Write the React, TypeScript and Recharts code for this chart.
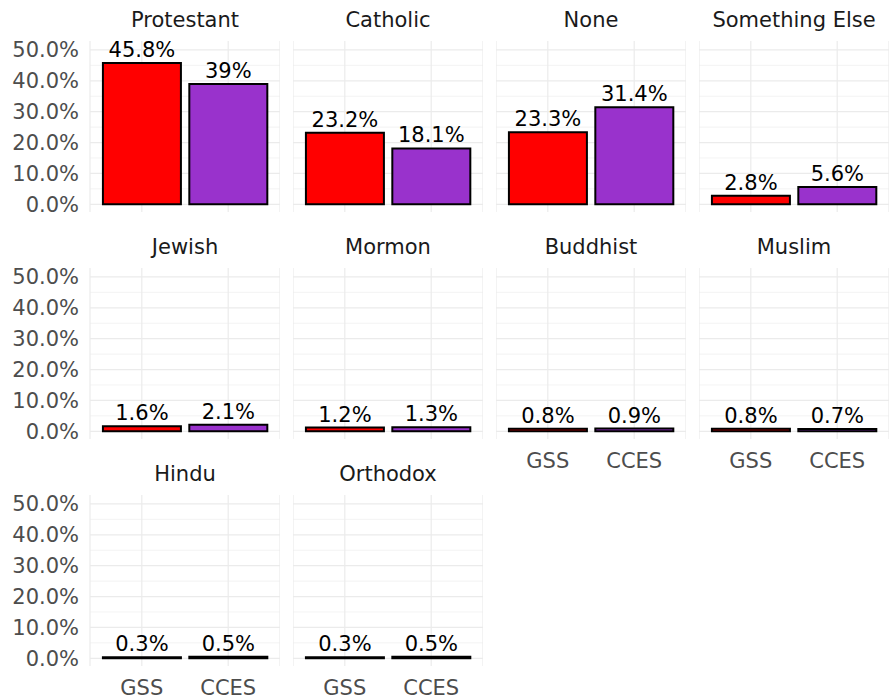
import { BarChart, Bar, XAxis, YAxis, CartesianGrid, Cell, LabelList } from "recharts";

const religions = [
  "Protestant",
  "Catholic",
  "None",
  "Something Else",
  "Jewish",
  "Mormon",
  "Buddhist",
  "Muslim",
  "Hindu",
  "Orthodox",
];
const surveys = ["GSS", "CCES"];
const gssShare = [45.8, 23.2, 23.3, 2.8, 1.6, 1.2, 0.8, 0.8, 0.3, 0.3];
const ccesShare = [39, 18.1, 31.4, 5.6, 2.1, 1.3, 0.9, 0.7, 0.5, 0.5];
const majorTicks = [0, 10, 20, 30, 40, 50];
const minorTicks = [5, 15, 25, 35, 45];

const surveyColors = ["#FF0000", "#9932CC"];
const FONT = "'DejaVu Sans', sans-serif";
const FS = 21;
const PLOT_W = 190;
const PLOT_H = 171;
const TOP_PAD = 30;
const BOTTOM_PAD = 14;
const Y_AXIS_W = 90;
const X_AXIS_H = 40;
const colLeft = [90, 293, 496, 699];
const rowTop = [41, 268, 495];

function Panel({ idx }: { idx: number }) {
  const col = idx % 4;
  const row = Math.floor(idx / 4);
  const showY = col === 0;
  const showX = idx >= 6;
  const data = surveys.map((s, i) => ({
    survey: s,
    share: i === 0 ? gssShare[idx] : ccesShare[idx],
  }));
  const bottomPad = showX ? 0 : BOTTOM_PAD;
  const w = PLOT_W + (showY ? Y_AXIS_W : 0);
  const h = TOP_PAD + PLOT_H + (showX ? X_AXIS_H : 0) + bottomPad;
  const left = colLeft[col] - (showY ? Y_AXIS_W : 0);
  const top = rowTop[row];

  return (
    <>
      <div
        style={{
          position: "absolute",
          left: colLeft[col] - 10,
          top: top - 36,
          width: PLOT_W + 20,
          height: 30,
          lineHeight: "30px",
          textAlign: "center",
          fontFamily: FONT,
          fontSize: FS,
          color: "#1a1a1a",
          whiteSpace: "nowrap",
        }}
      >
        {religions[idx]}
      </div>
      <div style={{ position: "absolute", left, top: top - TOP_PAD }}>
        <BarChart
          width={w}
          height={h}
          data={data}
          margin={{ top: TOP_PAD, right: 0, bottom: bottomPad, left: 0 }}
          barCategoryGap="5%"
        >
          <CartesianGrid
            stroke="#ebebeb"
            strokeWidth={0.6}
            vertical={false}
            horizontalValues={minorTicks}
          />
          <CartesianGrid stroke="#ebebeb" strokeWidth={1.2} horizontalValues={majorTicks} />
          <XAxis
            dataKey="survey"
            hide={!showX}
            height={X_AXIS_H}
            padding={{ left: 8.6, right: 8.6 }}
            axisLine={false}
            tickLine={false}
            tickSize={0}
            tickMargin={14}
            tick={{ fill: "#4d4d4d", fontSize: FS, fontFamily: FONT }}
          />
          <YAxis
            hide={!showY}
            width={Y_AXIS_W}
            domain={[-2.5, 52.9]}
            ticks={majorTicks}
            interval={0}
            allowDataOverflow
            axisLine={false}
            tickLine={false}
            tickSize={0}
            tickMargin={11}
            tickFormatter={(v: number) => `${v.toFixed(1)}%`}
            tick={{ fill: "#4d4d4d", fontSize: FS, fontFamily: FONT }}
          />
          <Bar dataKey="share" stroke="#000" strokeWidth={2} isAnimationActive={false}>
            {data.map((d, i) => (
              <Cell key={d.survey} fill={surveyColors[i]} />
            ))}
            <LabelList
              dataKey="share"
              position="top"
              offset={6}
              formatter={(v: number) => `${v}%`}
              style={{ fill: "#000", fontSize: FS, fontFamily: FONT }}
            />
          </Bar>
        </BarChart>
      </div>
    </>
  );
}

export default function App() {
  return (
    <div
      style={{
        position: "absolute",
        left: 0,
        top: 0,
        width: 890,
        height: 699,
        background: "#fff",
        overflow: "hidden",
      }}
    >
      {religions.map((r, i) => (
        <Panel key={r} idx={i} />
      ))}
    </div>
  );
}
